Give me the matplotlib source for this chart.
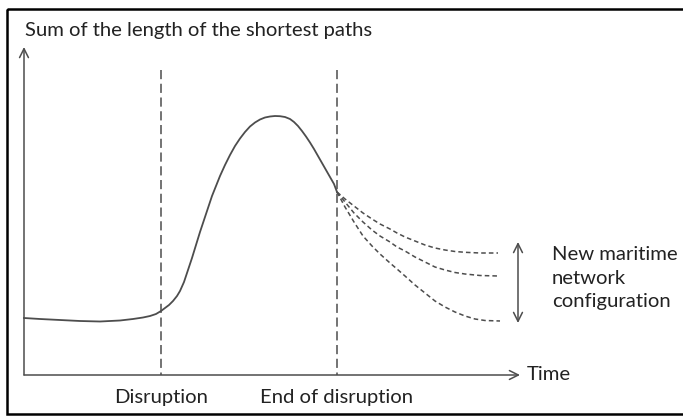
import matplotlib.pyplot as plt
from matplotlib.patches import Rectangle

# conceptual diagram, coordinates in the picture's own units (y grows downward)
time_main = [24, 40, 60, 80, 100, 120, 133, 143, 150, 156, 161, 165, 169, 173,
             177, 180, 184, 188, 192, 196, 200, 204, 208, 212, 216, 220, 225,
             230, 235, 240, 245, 250, 255, 260, 265, 270, 275, 280, 285, 290,
             294, 298, 302, 306, 310, 314, 318, 322, 326, 330, 334, 337]
value_main = [318, 319, 320, 321, 321.5, 320.5, 319, 317.5, 316, 314, 311, 308,
              305, 301, 296, 291, 282, 270, 258, 245, 232, 220, 208, 196, 186,
              176, 165, 155, 146, 138.5, 132, 126.5, 122.5, 119.5, 117.5, 116.5,
              116, 116.2, 117, 119, 122, 126, 131, 136.5, 142.5, 149, 156, 163,
              170, 177, 184, 192]

time_high = [337, 345, 354, 363, 372, 380, 390, 397, 405, 415, 425, 435, 445,
             455, 465, 480, 498]
value_high = [192, 199, 206, 213, 219, 224, 229, 233, 237, 241, 245, 248, 250,
              251.5, 252.3, 253, 253]
time_mid = time_high
value_mid = [192, 202, 213, 222, 230, 236, 242, 247, 251, 257, 262, 267, 270,
             272.5, 274, 275.5, 276]
time_low = [337, 345, 354, 363, 372, 380, 390, 397, 405, 415, 425, 435, 445,
            455, 465, 475, 485, 500]
value_low = [192, 207, 222, 236, 246, 254, 263, 269, 276, 285, 293, 301, 307,
             312, 316, 319, 320.5, 321]

events = [161, 337]
event_labels = ['Disruption', 'End of disruption']

origin = (24, 375)
gray = '#4d4d4d'
txt = '#222222'
fs = 14.6

plt.rcParams['font.family'] = ['Lato', 'DejaVu Sans']

fig = plt.figure(figsize=(6.83, 4.17), dpi=100)
ax = fig.add_axes([0, 0, 1, 1])
ax.set_xlim(0, 683)
ax.set_ylim(417, 0)
ax.axis('off')

# axes arrows
ax.annotate('', xy=(origin[0], 47), xytext=origin,
            arrowprops=dict(arrowstyle='->', color=gray, lw=1.1,
                            shrinkA=0, shrinkB=0, mutation_scale=16))
ax.annotate('', xy=(520, origin[1]), xytext=origin,
            arrowprops=dict(arrowstyle='->', color=gray, lw=1.1,
                            shrinkA=0, shrinkB=0, mutation_scale=16))

for x, lab in zip(events, event_labels):
    ax.plot([x, x], [70, origin[1]], color=gray, lw=1.1, ls=(0, (6, 3)))
    ax.text(x, 398, lab, ha='center', va='center', fontsize=fs, color=txt)

ax.plot(time_main, value_main, color=gray, lw=1.3, solid_joinstyle='round')
ax.plot(time_high, value_high, color=gray, lw=1.1, ls=(0, (3, 2)))
ax.plot(time_mid, value_mid, color=gray, lw=1.1, ls=(0, (3, 2)))
ax.plot(time_low, value_low, color=gray, lw=1.1, ls=(0, (3, 2)))

ax.annotate('', xy=(518, 242), xytext=(518, 323),
            arrowprops=dict(arrowstyle='<->', color=gray, lw=1.1,
                            shrinkA=0, shrinkB=0, mutation_scale=16))

ax.text(25, 30, 'Sum of the length of the shortest paths', ha='left', va='center',
        fontsize=fs, color=txt)
ax.text(527, 375, 'Time', ha='left', va='center', fontsize=fs, color=txt)
ax.text(552, 278, 'New maritime\nnetwork\nconfiguration', ha='left', va='center',
        fontsize=fs, color=txt, linespacing=1.45)

ax.add_patch(Rectangle((6.5, 8.5), 690, 405, fill=False, ec='black', lw=1.8,
                       clip_on=False))

fig.savefig('out.png', dpi=100)
